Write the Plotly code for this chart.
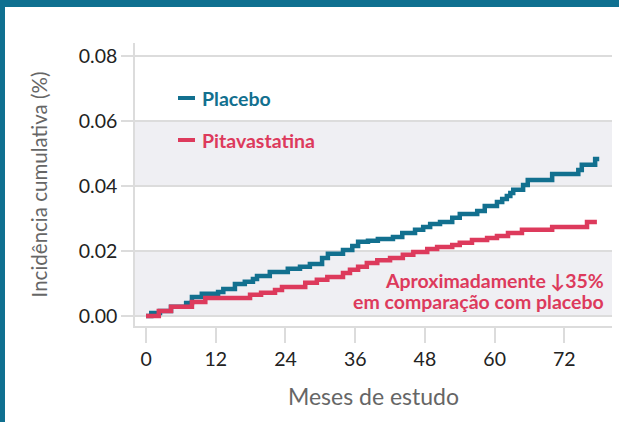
import plotly.graph_objects as go

# Data: step change points (months, cumulative incidence)
placebo_months = [0, 0.9, 2.4, 4.3, 6.9, 7.9, 9.6, 12.4, 13.3, 15.3, 17.0, 18.4, 19.1, 21.3,
                  24.4, 26.5, 28.2, 30.3, 31.3, 33.9, 35.5, 36.5, 38.2, 39.9, 42.5, 44.1,
                  46.3, 47.7, 48.9, 50.6, 52.7, 54.0, 57.0, 58.3, 60.4, 61.3, 62.1, 62.7,
                  63.2, 64.9, 65.7, 69.9, 74.4, 75.0, 77.3, 78.0]
placebo_values = [0.0, 0.0009, 0.0015, 0.0028, 0.0040, 0.0058, 0.0068, 0.0074, 0.0083, 0.0098,
                  0.0105, 0.0114, 0.0123, 0.0135, 0.0145, 0.0151, 0.0160, 0.0178, 0.0191,
                  0.0203, 0.0215, 0.0228, 0.0231, 0.0237, 0.0243, 0.0255, 0.0265, 0.0274,
                  0.0283, 0.0289, 0.0302, 0.0314, 0.0323, 0.0338, 0.0351, 0.0360, 0.0369,
                  0.0378, 0.0388, 0.0403, 0.0418, 0.0437, 0.0449, 0.0465, 0.0483, 0.0483]

pitava_months = [0, 2.2, 4.3, 7.9, 10.2, 17.9, 19.8, 22.2, 23.4, 27.4, 29.4, 31.2, 33.9,
                 35.1, 36.5, 38.0, 39.8, 42.0, 44.2, 46.0, 48.4, 50.1, 52.7, 54.0, 56.1,
                 58.7, 60.4, 62.3, 64.7, 69.9, 75.9, 77.6]
pitava_values = [0.0, 0.0015, 0.0028, 0.0043, 0.0055, 0.0065, 0.0071, 0.0080, 0.0089, 0.0102,
                 0.0111, 0.0120, 0.0132, 0.0142, 0.0151, 0.0163, 0.0171, 0.0178, 0.0188,
                 0.0197, 0.0206, 0.0212, 0.0218, 0.0225, 0.0234, 0.0240, 0.0246, 0.0255,
                 0.0265, 0.0274, 0.0289, 0.0289]

x_ticks = [0, 12, 24, 36, 48, 60, 72]
y_ticks = [0.00, 0.02, 0.04, 0.06, 0.08]
y_ticklabels = ["0.00", "0.02", "0.04", "0.06", "0.08"]
bands = [(0.00, 0.02), (0.04, 0.06)]

TEAL = "#12708F"
RED = "#DD3A5C"
GRID = "#DCDCDC"
FONT = "Lato"

fig = go.Figure()
fig.add_trace(go.Scatter(x=placebo_months, y=placebo_values, mode="lines",
                         line=dict(color=TEAL, width=4.5, shape="hv"), name="Placebo"))
fig.add_trace(go.Scatter(x=pitava_months, y=pitava_values, mode="lines",
                         line=dict(color=RED, width=4.5, shape="hv"), name="Pitavastatina"))

L, R, T, B = 135, 612, 43, 326
PW, PH = R - L, B - T


def px(xp):
    return (xp - L) / PW


def py(yp):
    return (B - yp) / PH


shapes = []
for y0, y1 in bands:
    shapes.append(dict(type="rect", xref="paper", yref="y", x0=0, x1=1, y0=y0, y1=y1,
                       fillcolor="#EFEFF3", line=dict(width=0), layer="below"))
# frame bars (top and left)
shapes.append(dict(type="rect", xref="paper", yref="paper", x0=px(-20), x1=px(640),
                   y0=py(7), y1=py(-20), fillcolor="#0F7090", line=dict(width=0), layer="above"))
shapes.append(dict(type="rect", xref="paper", yref="paper", x0=px(-20), x1=px(5),
                   y0=py(440), y1=py(-20), fillcolor="#0F7090", line=dict(width=0), layer="above"))
# legend line swatches
for ypx, col in [(98, TEAL), (140, RED)]:
    shapes.append(dict(type="line", xref="paper", yref="paper",
                       x0=px(178), x1=px(195), y0=py(ypx), y1=py(ypx),
                       line=dict(color=col, width=4)))

annotations = [
    dict(text="<b>Placebo</b>", xref="paper", yref="paper", x=px(200), y=py(98),
         xanchor="left", yanchor="middle", showarrow=False,
         font=dict(family=FONT, size=19.5, color=TEAL)),
    dict(text="<b>Pitavastatina</b>", xref="paper", yref="paper", x=px(200), y=py(140),
         xanchor="left", yanchor="middle", showarrow=False,
         font=dict(family=FONT, size=19.5, color=RED)),
    dict(text="<b>Aproximadamente ↓35%</b>", xref="paper", yref="paper", x=px(606), y=py(280),
         xanchor="right", yanchor="middle", showarrow=False,
         font=dict(family=FONT, size=19.5, color=RED)),
    dict(text="<b>em comparação com placebo</b>", xref="paper", yref="paper", x=px(606), y=py(301),
         xanchor="right", yanchor="middle", showarrow=False,
         font=dict(family=FONT, size=19.5, color=RED)),
]

fig.update_layout(
    width=619, height=422,
    margin=dict(l=L, r=619 - R, t=T, b=422 - B),
    paper_bgcolor="white", plot_bgcolor="white",
    showlegend=False,
    shapes=shapes, annotations=annotations,
    font=dict(family=FONT, color="#222222", size=19),
    xaxis=dict(range=[-1.9, 80.2], tickvals=x_ticks, showgrid=False, zeroline=False,
               showline=True, linecolor=GRID, linewidth=1.5,
               ticks="outside", ticklen=15, tickcolor=GRID, tickwidth=1.5,
               tickfont=dict(family=FONT, size=19.5, color="#222222"),
               title=dict(text="Meses de estudo", standoff=20,
                          font=dict(family=FONT, size=23, color="#666666"))),
    yaxis=dict(range=[-0.0031, 0.084], tickvals=y_ticks, ticktext=y_ticklabels,
               showgrid=True, gridcolor=GRID, gridwidth=1.5, zeroline=False,
               showline=True, linecolor=GRID, linewidth=1.5,
               ticks="outside", ticklen=12, tickcolor=GRID, tickwidth=1.5,
               tickfont=dict(family=FONT, size=19.5, color="#222222"),
               title=dict(text="Incidência cumulativa (%)", standoff=26,
                          font=dict(family=FONT, size=20.5, color="#666666"))),
)

fig.write_html("out.html", config={"displayModeBar": False},
               post_script="document.body.style.margin='0';document.body.style.padding='0';")
